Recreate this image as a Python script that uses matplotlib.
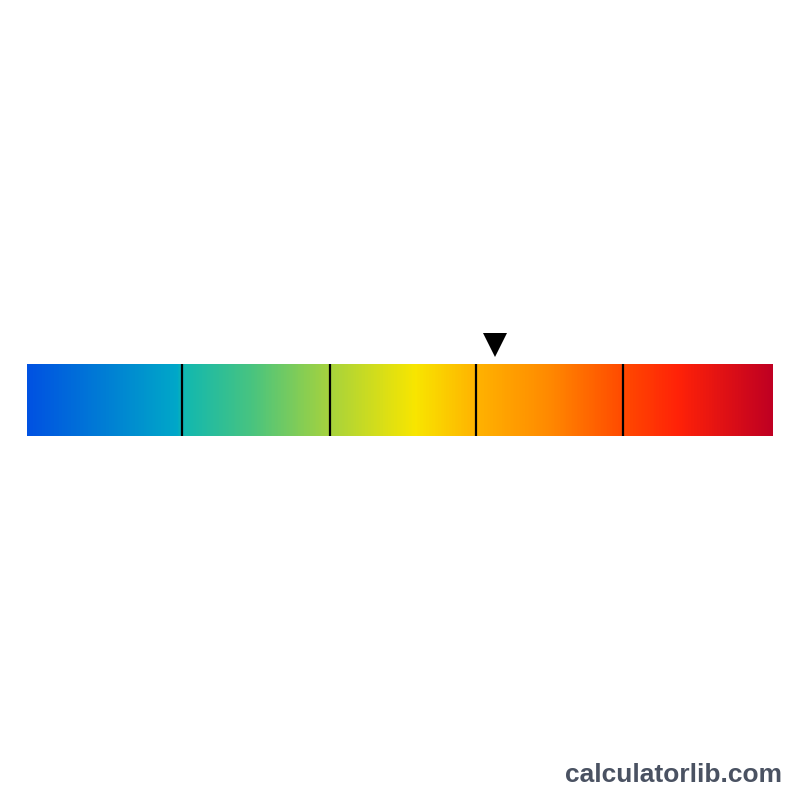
import numpy as np
import matplotlib
matplotlib.use("Agg")
import matplotlib.pyplot as plt
from matplotlib.colors import LinearSegmentedColormap

# Scale data (0-100 scale along the bar)
scale_min = 0
scale_max = 100
boundaries = [20.8, 40.6, 60.2, 79.9]
marker_value = 62.7

# Gradient colour stops (position, colour)
stop_positions = [0.0, 0.20, 0.21, 0.30, 0.40, 0.52, 0.60, 0.70, 0.80, 0.875, 1.0]
stop_colors = ["#0052e2", "#00a8c8", "#12b8b0", "#48c480", "#a2d240", "#f8e600",
               "#ffb400", "#ff8a00", "#ff4a00", "#ff2208", "#c00022"]

cmap = LinearSegmentedColormap.from_list("scale", list(zip(stop_positions, stop_colors)))

fig = plt.figure(figsize=(8, 8), dpi=100)
ax = fig.add_axes([27 / 800, 0, 746 / 800, 1])
ax.set_xlim(scale_min, scale_max)
ax.set_ylim(800, 0)
ax.axis("off")

bar_top, bar_bottom = 364, 436
grad = np.linspace(0, 1, 1000).reshape(1, -1)
ax.imshow(grad, cmap=cmap, aspect="auto",
          extent=[scale_min, scale_max, bar_bottom, bar_top], interpolation="bilinear")

for b in boundaries:
    ax.plot([b, b], [bar_top, bar_bottom], color="black", lw=1.6, solid_capstyle="butt")

ax.plot([marker_value], [345], marker="v", markersize=17, color="black",
        markeredgewidth=0, linestyle="none")

fig.text(782 / 800, 1 - 782 / 800, "calculatorlib.com", ha="right", va="baseline",
         fontsize=19, fontweight="bold", color="#4a5262", family="Liberation Sans")

fig.savefig("out.png", dpi=100, facecolor="white")
